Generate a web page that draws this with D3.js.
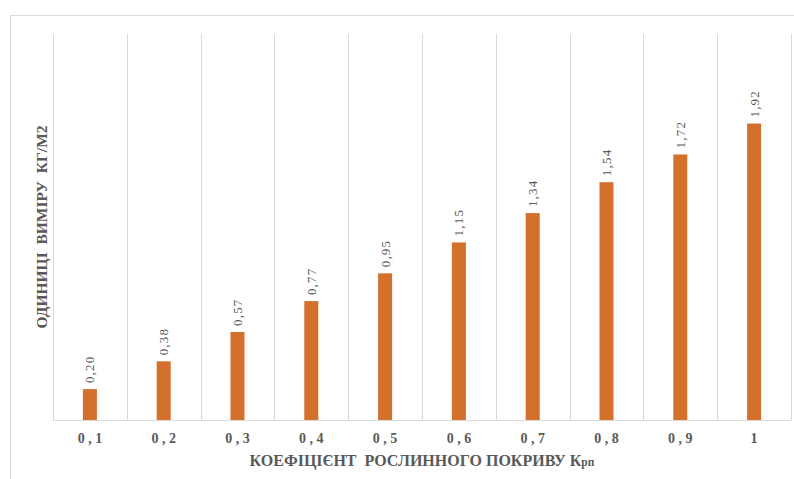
<!DOCTYPE html>
<html><head><meta charset="utf-8">
<script src="https://cdn.jsdelivr.net/npm/d3@7"></script>
<style>body{margin:0;background:#fff}svg{display:block}svg text{font-family:"Liberation Serif","Times New Roman",serif;white-space:pre}</style>
</head><body><svg id="c" width="794" height="479"></svg>
<script>
const categories = ["0 , 1","0 , 2","0 , 3","0 , 4","0 , 5","0 , 6","0 , 7","0 , 8","0 , 9","1"];
const values = [0.20,0.38,0.57,0.77,0.95,1.15,1.34,1.54,1.72,1.92];
const valueLabels = ["0,20","0,38","0,57","0,77","0,95","1,15","1,34","1,54","1,72","1,92"];
const yTitle = "ОДИНИЦІ  ВИМІРУ  КГ/М2";
const xTitleMain = "КОЕФІЦІЄНТ  РОСЛИННОГО ПОКРИВУ К";
const xTitleSub = "рп";

const svg = d3.select("#c");
const m = {left:53, right:3, top:34, bottom:59};
const W = 794, H = 479;
const iw = W - m.left - m.right, ih = H - m.top - m.bottom;
const font = '"Liberation Serif","Times New Roman",serif';

svg.append("rect").attr("x",10.5).attr("y",15.5).attr("width",800).attr("height",500)
  .attr("fill","#fff").attr("stroke","#d9d9d9").attr("stroke-width",1);

const g = svg.append("g").attr("transform",`translate(${m.left},${m.top})`);
const x = d3.scaleBand().domain(categories).range([0,iw]).paddingInner(0).paddingOuter(0);
const y = d3.scaleLinear().domain([0,2.5]).range([ih,0]);

const bounds = categories.map(c=>x(c)).concat([iw]);
g.selectAll("line.grid").data(bounds).join("line")
  .attr("x1",d=>Math.round(d)+0.5).attr("x2",d=>Math.round(d)+0.5)
  .attr("y1",0).attr("y2",ih).attr("stroke","#d9d9d9").attr("stroke-width",1);
g.append("line").attr("x1",0).attr("x2",iw).attr("y1",ih+0.5).attr("y2",ih+0.5)
  .attr("stroke","#d9d9d9").attr("stroke-width",1);

const bw = 14;
g.selectAll("rect.bar").data(values).join("rect")
  .attr("x",(d,i)=>x(categories[i])+x.bandwidth()/2-bw/2)
  .attr("y",d=>y(d)).attr("width",bw).attr("height",d=>ih-y(d))
  .attr("fill","#D3702B");

g.selectAll("text.vl").data(values).join("text")
  .attr("transform",(d,i)=>`translate(${x(categories[i])+x.bandwidth()/2+4.5},${y(d)-6}) rotate(-90)`)
  .style("font-family",font).attr("font-size",13).attr("fill","#595959")
  .attr("letter-spacing","1.2px")
  .text((d,i)=>valueLabels[i]);

const xa = g.append("g").attr("transform",`translate(0,${ih})`)
  .call(d3.axisBottom(x).tickSize(0).tickPadding(13));
xa.select(".domain").remove();
xa.selectAll("text").style("font-family",font).attr("font-size",14).attr("font-weight","bold")
  .attr("fill","#595959").attr("dy","0.71em");

svg.append("text").attr("transform",`translate(47,${m.top+ih/2}) rotate(-90)`)
  .attr("text-anchor","middle").style("font-family",font).attr("font-size",15.5)
  .attr("font-weight","bold").attr("fill","#595959").text(yTitle);

const xt = svg.append("text").attr("x",m.left+iw/2).attr("y",466)
  .attr("text-anchor","middle").style("font-family",font).attr("font-size",16)
  .attr("font-weight","bold").attr("fill","#595959");
xt.append("tspan").text(xTitleMain);
xt.append("tspan").attr("font-size",11.5).text(xTitleSub);
</script></body></html>
